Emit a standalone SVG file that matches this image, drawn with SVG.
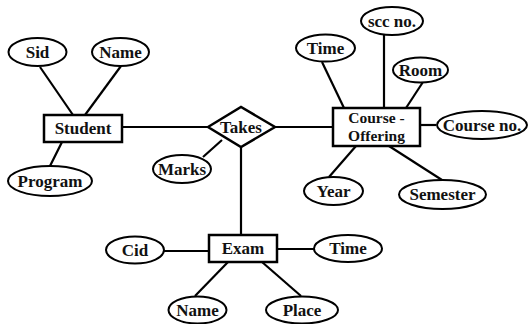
<svg xmlns="http://www.w3.org/2000/svg" width="528" height="324" viewBox="0 0 528 324">
  <style>
    .shape { fill: #ffffff; stroke: #000000; stroke-width: 2; }
    .box { fill: #ffffff; stroke: #000000; stroke-width: 2.5; }
    .link { stroke: #000000; stroke-width: 2.2; fill: none; }
    text { font-family: "Liberation Serif", "DejaVu Serif", serif; font-weight: bold; font-size: 17px; fill: #111111; text-anchor: middle; dominant-baseline: central; }
    .two-line { font-size: 15.5px; }
  </style>
  <rect width="528" height="324" fill="#ffffff"/>

  <!-- connectors -->
  <g id="connectors">
    <line class="link" x1="40" y1="67" x2="73" y2="115"/>
    <line class="link" x1="121" y1="66" x2="85" y2="115"/>
    <line class="link" x1="62" y1="142" x2="50" y2="166"/>
    <line class="link" x1="122" y1="127" x2="208" y2="127"/>
    <line class="link" x1="222" y1="140" x2="203" y2="157"/>
    <line class="link" x1="241" y1="147" x2="241" y2="235"/>
    <line class="link" x1="275" y1="127" x2="333" y2="127"/>
    <line class="link" x1="322" y1="62" x2="344" y2="108"/>
    <line class="link" x1="384" y1="35" x2="384" y2="108"/>
    <line class="link" x1="423" y1="82" x2="406" y2="108"/>
    <line class="link" x1="420" y1="125" x2="436" y2="125"/>
    <line class="link" x1="356" y1="146" x2="329" y2="177"/>
    <line class="link" x1="389" y1="146" x2="442" y2="180"/>
    <line class="link" x1="164" y1="251" x2="209" y2="251"/>
    <line class="link" x1="277" y1="249" x2="314" y2="249"/>
    <line class="link" x1="228" y1="262" x2="195" y2="296"/>
    <line class="link" x1="262" y1="262" x2="301" y2="296"/>
  </g>

  <!-- Student entity and its attributes -->
  <g id="student">
    <rect class="box" x="44" y="115" width="78" height="27"/>
    <text x="83" y="128">Student</text>
  </g>
  <g id="student-sid">
    <ellipse class="shape" cx="37.5" cy="52" rx="29" ry="14"/>
    <text x="37.5" y="52">Sid</text>
  </g>
  <g id="student-name">
    <ellipse class="shape" cx="120.5" cy="52" rx="28.5" ry="14"/>
    <text x="120.5" y="52">Name</text>
  </g>
  <g id="student-program">
    <ellipse class="shape" cx="50" cy="181" rx="42" ry="15"/>
    <text x="50" y="181">Program</text>
  </g>

  <!-- Takes relationship -->
  <g id="takes">
    <polygon class="box" points="208,127 241,107 275,127 241,147"/>
    <text x="241" y="127">Takes</text>
  </g>
  <g id="takes-marks">
    <ellipse class="shape" cx="182" cy="169" rx="29" ry="14"/>
    <text x="182" y="169">Marks</text>
  </g>

  <!-- Course-Offering entity and its attributes -->
  <g id="course-offering">
    <rect class="box" x="333" y="108" width="87" height="38"/>
    <text class="two-line" x="376.5" y="117">Course -</text>
    <text class="two-line" x="376.5" y="135">Offering</text>
  </g>
  <g id="co-time">
    <ellipse class="shape" cx="325.5" cy="48" rx="29.5" ry="13.5"/>
    <text x="325.5" y="48">Time</text>
  </g>
  <g id="co-sccno">
    <ellipse class="shape" cx="392" cy="21" rx="31" ry="14"/>
    <text x="392" y="21">scc no.</text>
  </g>
  <g id="co-room">
    <ellipse class="shape" cx="420.5" cy="70" rx="27.5" ry="12.5"/>
    <text x="420.5" y="70">Room</text>
  </g>
  <g id="co-courseno">
    <ellipse class="shape" cx="482" cy="125" rx="45" ry="14"/>
    <text x="482" y="125">Course no.</text>
  </g>
  <g id="co-year">
    <ellipse class="shape" cx="333.5" cy="191" rx="29.5" ry="14"/>
    <text x="333.5" y="191">Year</text>
  </g>
  <g id="co-semester">
    <ellipse class="shape" cx="442.5" cy="194.5" rx="43.5" ry="14.5"/>
    <text x="442.5" y="194.5">Semester</text>
  </g>

  <!-- Exam entity and its attributes -->
  <g id="exam">
    <rect class="box" x="209" y="235" width="68" height="27"/>
    <text x="243" y="248">Exam</text>
  </g>
  <g id="exam-cid">
    <ellipse class="shape" cx="135" cy="250" rx="29" ry="13.5"/>
    <text x="135" y="250">Cid</text>
  </g>
  <g id="exam-time">
    <ellipse class="shape" cx="348" cy="248.5" rx="34" ry="13.5"/>
    <text x="348" y="248.5">Time</text>
  </g>
  <g id="exam-name">
    <ellipse class="shape" cx="197.5" cy="310" rx="29" ry="13.5"/>
    <text x="197.5" y="310">Name</text>
  </g>
  <g id="exam-place">
    <ellipse class="shape" cx="302" cy="310" rx="36" ry="13.5"/>
    <text x="302" y="310">Place</text>
  </g>
</svg>
